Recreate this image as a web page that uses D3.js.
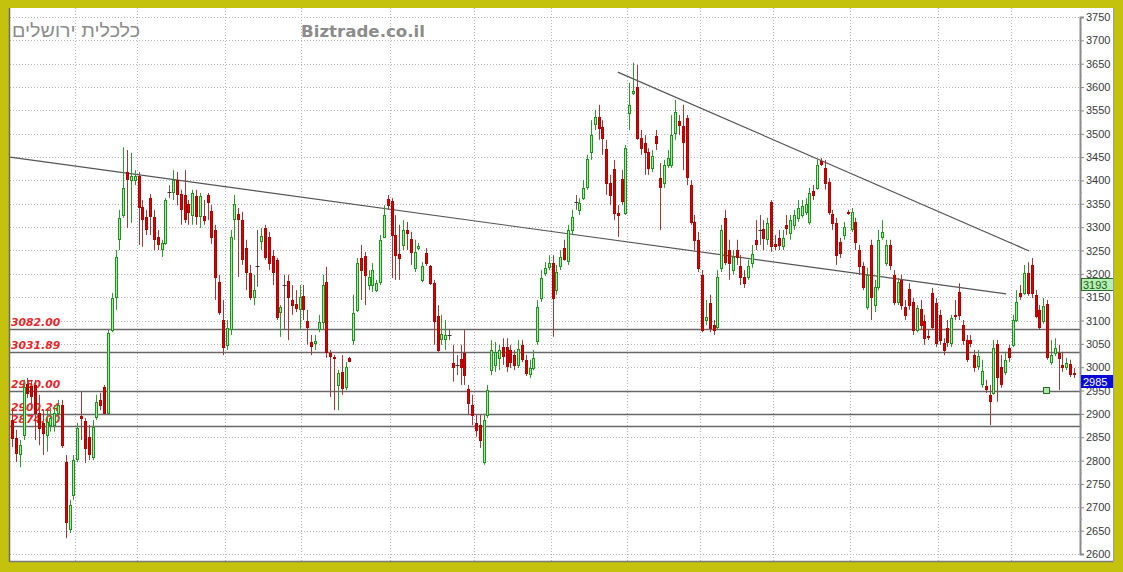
<!DOCTYPE html>
<html>
<head>
<meta charset="utf-8">
<script src="https://cdn.jsdelivr.net/npm/d3@7"></script>
<style>
  html, body { margin: 0; padding: 0; background: #c5c20d; }
  svg { display: block; }
</style>
</head>
<body>
<svg id="chart" width="1123" height="572"></svg>
<script>
// Daily OHLC candles (index = trading day)
const open = [2887,2849,2814,2855,2964,2960,2962,2902,2881,2855,2876,2876,2902,2919,2797,2653,2726,2803,2896,2885,2851,2808,2893,2930,2958,2902,3080,3150,3275,3326,3418,3401,3401,3410,3343,3322,3362,3322,3279,3253,3266,3375,3375,3401,3371,3369,3350,3326,3367,3324,3324,3369,3335,3294,3182,3101,3048,3082,3318,3328,3315,3255,3202,3150,3217,3270,3298,3279,3238,3230,3118,3176,3185,3144,3135,3125,3153,3099,3054,3052,3082,3097,3182,3031,3022,2962,2990,2958,3020,3058,3123,3234,3238,3176,3176,3165,3182,3279,3360,3356,3283,3242,3262,3294,3275,3213,3255,3187,3245,3217,3180,3110,3060,3060,3069,3009,3005,3018,3031,2953,2919,2881,2876,2797,2898,2994,3005,3020,3043,3043,3037,3026,3005,3048,3016,2986,2998,3056,3148,3202,3215,3223,3165,3217,3255,3228,3294,3354,3337,3362,3386,3461,3521,3536,3514,3467,3394,3424,3330,3403,3330,3544,3587,3600,3491,3480,3461,3427,3495,3405,3394,3433,3433,3502,3527,3517,3534,3390,3311,3273,3198,3101,3138,3090,3086,3213,3320,3251,3208,3251,3217,3193,3193,3223,3273,3294,3296,3275,3354,3264,3277,3260,3305,3287,3305,3320,3326,3333,3311,3377,3384,3442,3427,3397,3328,3309,3268,3283,3333,3296,3311,3251,3217,3129,3262,3133,3172,3279,3223,3262,3198,3140,3187,3129,3167,3140,3080,3125,3099,3067,3159,3138,3112,3052,3084,3052,3112,3161,3090,3058,3058,3026,3003,2964,2960,2941,2945,3050,3000,2990,3041,3048,3101,3159,3159,3202,3219,3155,3123,3099,3135,3011,3031,3031,3005,3000,3007,2988];
const high = [2913,2866,2844,2973,2977,2973,2973,2941,2908,2908,2913,2919,2930,2930,2812,2716,2812,2881,2947,2891,2876,2887,2941,2945,2962,3080,3159,3251,3337,3471,3465,3459,3422,3418,3358,3337,3371,3337,3294,3273,3362,3390,3422,3418,3380,3422,3358,3380,3380,3373,3358,3373,3347,3305,3198,3144,3101,3294,3369,3341,3333,3273,3219,3198,3294,3298,3305,3290,3251,3234,3133,3198,3198,3176,3165,3176,3176,3123,3069,3069,3112,3198,3215,3037,3026,2994,3026,3011,3022,3155,3234,3262,3247,3208,3223,3187,3283,3347,3369,3362,3326,3305,3315,3311,3290,3273,3266,3225,3255,3219,3187,3133,3112,3101,3080,3048,3026,3048,3080,2962,2941,2898,2898,2898,2962,3058,3054,3048,3062,3062,3048,3037,3058,3058,3026,3016,3037,3144,3208,3225,3240,3240,3219,3251,3273,3305,3337,3369,3362,3401,3455,3529,3551,3562,3529,3487,3412,3444,3347,3422,3476,3609,3652,3647,3508,3497,3469,3465,3508,3437,3444,3465,3540,3572,3540,3562,3540,3401,3326,3290,3208,3144,3155,3101,3208,3305,3337,3273,3251,3273,3240,3208,3230,3262,3315,3326,3315,3320,3358,3283,3294,3294,3326,3326,3337,3358,3358,3362,3384,3390,3444,3448,3444,3405,3337,3320,3277,3311,3337,3341,3320,3262,3225,3213,3273,3187,3294,3315,3273,3273,3208,3191,3198,3144,3180,3148,3133,3144,3112,3080,3170,3148,3123,3062,3101,3112,3144,3180,3101,3069,3069,3037,3037,3016,2973,2962,3058,3058,3026,3033,3048,3112,3165,3176,3219,3225,3234,3165,3133,3148,3144,3058,3062,3048,3033,3020,3016,2998];
const low = [2829,2797,2786,2844,2934,2908,2844,2833,2812,2819,2862,2862,2887,2827,2634,2645,2716,2797,2844,2795,2801,2801,2887,2908,2900,2900,3075,3123,3251,3320,3298,3309,3390,3262,3258,3283,3283,3251,3251,3236,3262,3362,3358,3347,3305,3309,3305,3305,3305,3298,3305,3315,3264,3144,3112,3026,3037,3069,3273,3193,3219,3165,3144,3133,3172,3251,3230,3208,3176,3101,3065,3080,3058,3112,3118,3080,3101,3048,3026,3037,3075,3080,3020,2936,2908,2908,2941,2951,3011,3048,3118,3144,3133,3165,3161,3161,3176,3277,3337,3191,3187,3187,3251,3251,3219,3204,3251,3182,3217,3176,3048,3033,3048,3037,3058,2969,2983,2962,2962,2898,2876,2851,2827,2791,2891,2983,2990,2994,3005,2990,2998,2994,2998,3011,2981,2977,2994,3048,3140,3195,3208,3065,3155,3208,3228,3219,3283,3337,3326,3358,3380,3444,3508,3487,3455,3369,3347,3315,3279,3347,3326,3508,3583,3487,3455,3412,3412,3418,3465,3294,3384,3427,3427,3487,3497,3422,3390,3305,3251,3204,3075,3090,3075,3069,3080,3204,3219,3187,3198,3219,3176,3170,3187,3213,3251,3262,3251,3262,3247,3251,3251,3251,3283,3273,3294,3311,3320,3326,3305,3358,3380,3431,3380,3326,3294,3219,3234,3273,3326,3290,3251,3198,3165,3123,3101,3118,3165,3273,3217,3208,3133,3133,3123,3101,3123,3069,3075,3080,3048,3058,3080,3043,3048,3026,3043,3043,3101,3101,3048,3011,3043,2990,2994,2956,2945,2876,2941,2926,2956,2983,3011,3043,3097,3144,3155,3153,3148,3105,3080,3093,3016,3005,3024,2951,2990,2994,2979,2977];
const close = [2849,2817,2833,2958,2945,2938,2902,2870,2860,2883,2891,2902,2919,2833,2669,2705,2801,2870,2891,2827,2814,2872,2926,2919,2902,3073,3148,3236,3320,3384,3403,3410,3410,3343,3318,3296,3324,3275,3264,3266,3358,3375,3401,3371,3339,3318,3333,3373,3324,3367,3315,3354,3279,3193,3118,3043,3084,3279,3350,3318,3232,3204,3150,3165,3217,3281,3236,3223,3204,3108,3129,3176,3150,3133,3127,3150,3125,3086,3045,3056,3097,3176,3033,3024,3020,2988,2956,3000,3013,3116,3223,3208,3198,3193,3208,3180,3273,3326,3347,3283,3240,3234,3294,3287,3247,3247,3260,3217,3223,3180,3099,3037,3071,3069,3069,3000,3005,3000,2983,2923,2898,2866,2844,2887,2951,3037,3033,3037,3024,3003,3011,3005,3039,3018,2988,2998,3020,3129,3191,3213,3223,3148,3204,3236,3232,3294,3322,3354,3352,3384,3446,3497,3536,3512,3491,3394,3369,3330,3326,3356,3469,3562,3591,3491,3469,3461,3427,3452,3480,3386,3433,3448,3497,3547,3519,3482,3407,3311,3273,3213,3080,3108,3084,3080,3193,3294,3225,3223,3236,3236,3193,3180,3217,3242,3264,3294,3277,3309,3260,3260,3262,3277,3298,3315,3326,3341,3345,3350,3373,3369,3433,3435,3394,3333,3309,3240,3245,3300,3330,3333,3268,3217,3172,3198,3150,3172,3273,3290,3262,3219,3140,3182,3133,3112,3133,3080,3127,3090,3062,3065,3086,3052,3058,3037,3054,3105,3110,3112,3058,3018,3052,3000,3024,2992,2953,2928,3041,2979,2964,3016,3022,3101,3140,3153,3202,3159,3159,3110,3086,3131,3022,3026,3041,3020,3000,3009,2986,2985];

// First trading day of each month (vertical grid lines sit just before it)
const monthStarts = [17, 33, 56, 76, 99, 121, 141, 161, 180, 199, 219, 242, 261];

// Price axis
const yTicks = d3.range(2600, 3751, 50);
const yMinorTicks = d3.range(2625, 3751, 50);

// Horizontal support / resistance levels and their captions
const levels = [3082.00, 3031.89, 2950.00, 2900.24, 2874.00];
const levelLabels = ["3082.00", "3031.89", "2950.00", "2900.24", "2874.00"];

// Trend lines as [dayIndex, price] end points
const trendUpper = [[158, 3632], [265.3, 3249]];
const trendLower = [[-0.5, 3450], [259.3, 3157]];

// Value badges on the price axis
const refValue = 3193;
const lastValue = 2985;
const markerPoint = [270, 2950];

const titleHe = "כלכלית ירושלים";
const titleSite = "Biztrade.co.il";

// ---------------------------------------------------------------
const plot = { left: 10, right: 1080, top: 8, bottom: 562 };
const svg = d3.select("#chart");

const n = close.length;
const x = d3.scaleLinear().domain([0, n - 1]).range([12, 1074]);
const y = d3.scaleLinear().domain([2600, 3750]).range([554, 17]);

// white chart area
svg.append("rect").attr("x", plot.left).attr("y", plot.top)
  .attr("width", 1114 - plot.left).attr("height", plot.bottom - plot.top)
  .attr("fill", "#ffffff");

svg.append("defs").append("clipPath").attr("id", "plotClip")
  .append("rect").attr("x", plot.left).attr("y", plot.top)
  .attr("width", plot.right - plot.left).attr("height", plot.bottom - plot.top);

const g = svg.append("g").attr("clip-path", "url(#plotClip)");

// dotted grid
g.append("g").selectAll("line").data(yTicks).join("line")
  .attr("x1", plot.left).attr("x2", plot.right)
  .attr("y1", d => Math.round(y(d)) + 0.5).attr("y2", d => Math.round(y(d)) + 0.5)
  .attr("stroke", "#b8b8b8").attr("stroke-width", 1).attr("stroke-dasharray", "1,2");

g.append("g").selectAll("line").data(monthStarts).join("line")
  .attr("x1", d => Math.round(x(d - 0.5)) + 0.5).attr("x2", d => Math.round(x(d - 0.5)) + 0.5)
  .attr("y1", plot.top).attr("y2", plot.bottom)
  .attr("stroke", "#b8b8b8").attr("stroke-width", 1).attr("stroke-dasharray", "1,2");

// horizontal levels
g.append("g").selectAll("line").data(levels).join("line")
  .attr("x1", plot.left).attr("x2", plot.right)
  .attr("y1", d => Math.round(y(d)) + 0.5).attr("y2", d => Math.round(y(d)) + 0.5)
  .attr("stroke", "#686868").attr("stroke-width", 1.6);

g.append("g").selectAll("text").data(levels).join("text")
  .attr("x", 11).attr("y", d => y(d) - 3)
  .text((d, i) => levelLabels[i])
  .attr("font-family", "DejaVu Sans, Verdana, sans-serif")
  .attr("font-size", 10.8).attr("font-weight", "bold").attr("font-style", "italic")
  .attr("fill", "#e8262a");

// trend lines
const line = d3.line().x(d => x(d[0])).y(d => y(d[1]));
[trendUpper, trendLower].forEach(t => {
  g.append("path").attr("d", line(t)).attr("fill", "none")
    .attr("stroke", "#555").attr("stroke-width", 1.2);
});

// candles
const idx = d3.range(n);
const up = i => close[i] > open[i];
const flat = i => Math.abs(close[i] - open[i]) < 2;

const cg = g.append("g");
cg.selectAll("line.wick").data(idx).join("line")
  .attr("class", "wick")
  .attr("x1", i => Math.round(x(i)) + 0.5).attr("x2", i => Math.round(x(i)) + 0.5)
  .attr("y1", i => y(high[i])).attr("y2", i => y(low[i]))
  .attr("stroke", i => flat(i) ? "#7a5050" : (up(i) ? "#2f9a2f" : "#a33a3a"))
  .attr("stroke-width", 1);

cg.selectAll("rect.body").data(idx.filter(i => !flat(i))).join("rect")
  .attr("class", "body")
  .attr("x", i => Math.round(x(i)) - 0.5)
  .attr("y", i => Math.round(y(Math.max(open[i], close[i]))) + 0.5)
  .attr("width", 2)
  .attr("height", i => Math.max(1, Math.round(y(Math.min(open[i], close[i]))) - Math.round(y(Math.max(open[i], close[i])))))
  .attr("fill", i => up(i) ? "#a6eaa6" : "#d40000")
  .attr("stroke", i => up(i) ? "#1e941e" : "#b00000")
  .attr("stroke-width", 1);

cg.selectAll("line.doji").data(idx.filter(i => flat(i))).join("line")
  .attr("class", "doji")
  .attr("x1", i => Math.round(x(i)) - 1.5).attr("x2", i => Math.round(x(i)) + 2.5)
  .attr("y1", i => Math.round(y(close[i])) + 0.5).attr("y2", i => Math.round(y(close[i])) + 0.5)
  .attr("stroke", "#333").attr("stroke-width", 1);

// marker square on the 2950 level
g.append("rect")
  .attr("x", Math.round(x(markerPoint[0])) - 3.5).attr("y", Math.round(y(markerPoint[1])) - 3.5)
  .attr("width", 6).attr("height", 6)
  .attr("fill", "#a6eaa6").attr("stroke", "#2a6a2a").attr("stroke-width", 1);

// titles
svg.append("text").attr("x", 12).attr("y", 37).text(titleHe)
  .attr("font-family", "Liberation Sans, Arial, sans-serif").attr("font-size", 18)
  .attr("textLength", 128).attr("lengthAdjust", "spacingAndGlyphs")
  .attr("fill", "#8c8c8c");
svg.append("text").attr("x", 301).attr("y", 37).text(titleSite)
  .attr("font-family", "DejaVu Sans, Verdana, sans-serif").attr("font-size", 16)
  .attr("textLength", 124).attr("lengthAdjust", "spacingAndGlyphs")
  .attr("font-weight", "bold").attr("fill", "#8c8c8c");

// price axis on the right
const axis = svg.append("g").attr("transform", `translate(${plot.right},0)`)
  .call(d3.axisRight(y).tickValues(yTicks).tickSize(4).tickPadding(2).tickFormat(d3.format("d")));
axis.select(".domain").attr("stroke", "#8a8a8a").attr("stroke-width", 2);
axis.selectAll(".tick line").attr("stroke", "#8a8a8a");
axis.selectAll(".tick text").attr("fill", "#3a3a3a")
  .attr("font-family", "Liberation Sans, Arial, sans-serif").attr("font-size", 11);

const minor = svg.append("g").attr("transform", `translate(${plot.right},0)`)
  .call(d3.axisRight(y).tickValues(yMinorTicks).tickSize(2).tickFormat(""));
minor.select(".domain").remove();
minor.selectAll(".tick line").attr("stroke", "#9a9a9a");

// badges
function badge(v, fill, stroke, textColor) {
  const top = Math.round(y(v)) + 1.5;
  svg.append("rect").attr("x", plot.right + 1.5).attr("y", top)
    .attr("width", 32).attr("height", 12)
    .attr("fill", fill).attr("stroke", stroke).attr("stroke-width", 1);
  svg.append("text").attr("x", plot.right + 3).attr("y", top + 10)
    .text(d3.format("d")(v))
    .attr("font-family", "Liberation Sans, Arial, sans-serif").attr("font-size", 11)
    .attr("fill", textColor);
}
badge(refValue, "#b4f0b0", "#2d6e2d", "#1d5a1d");
badge(lastValue, "#0a0ad8", "#0a0ad8", "#ffffff");

// frame lines
svg.append("line").attr("x1", 9.5).attr("x2", 9.5).attr("y1", plot.top).attr("y2", plot.bottom)
  .attr("stroke", "#6a6a6a").attr("stroke-width", 1.5);
svg.append("line").attr("x1", 9.5).attr("x2", 1114).attr("y1", plot.bottom - 0.5).attr("y2", plot.bottom - 0.5)
  .attr("stroke", "#7a7a7a").attr("stroke-width", 1.5);
svg.append("line").attr("x1", 1113.5).attr("x2", 1113.5).attr("y1", plot.top).attr("y2", plot.bottom)
  .attr("stroke", "#9a9a9a").attr("stroke-width", 1);
</script>
</body>
</html>
